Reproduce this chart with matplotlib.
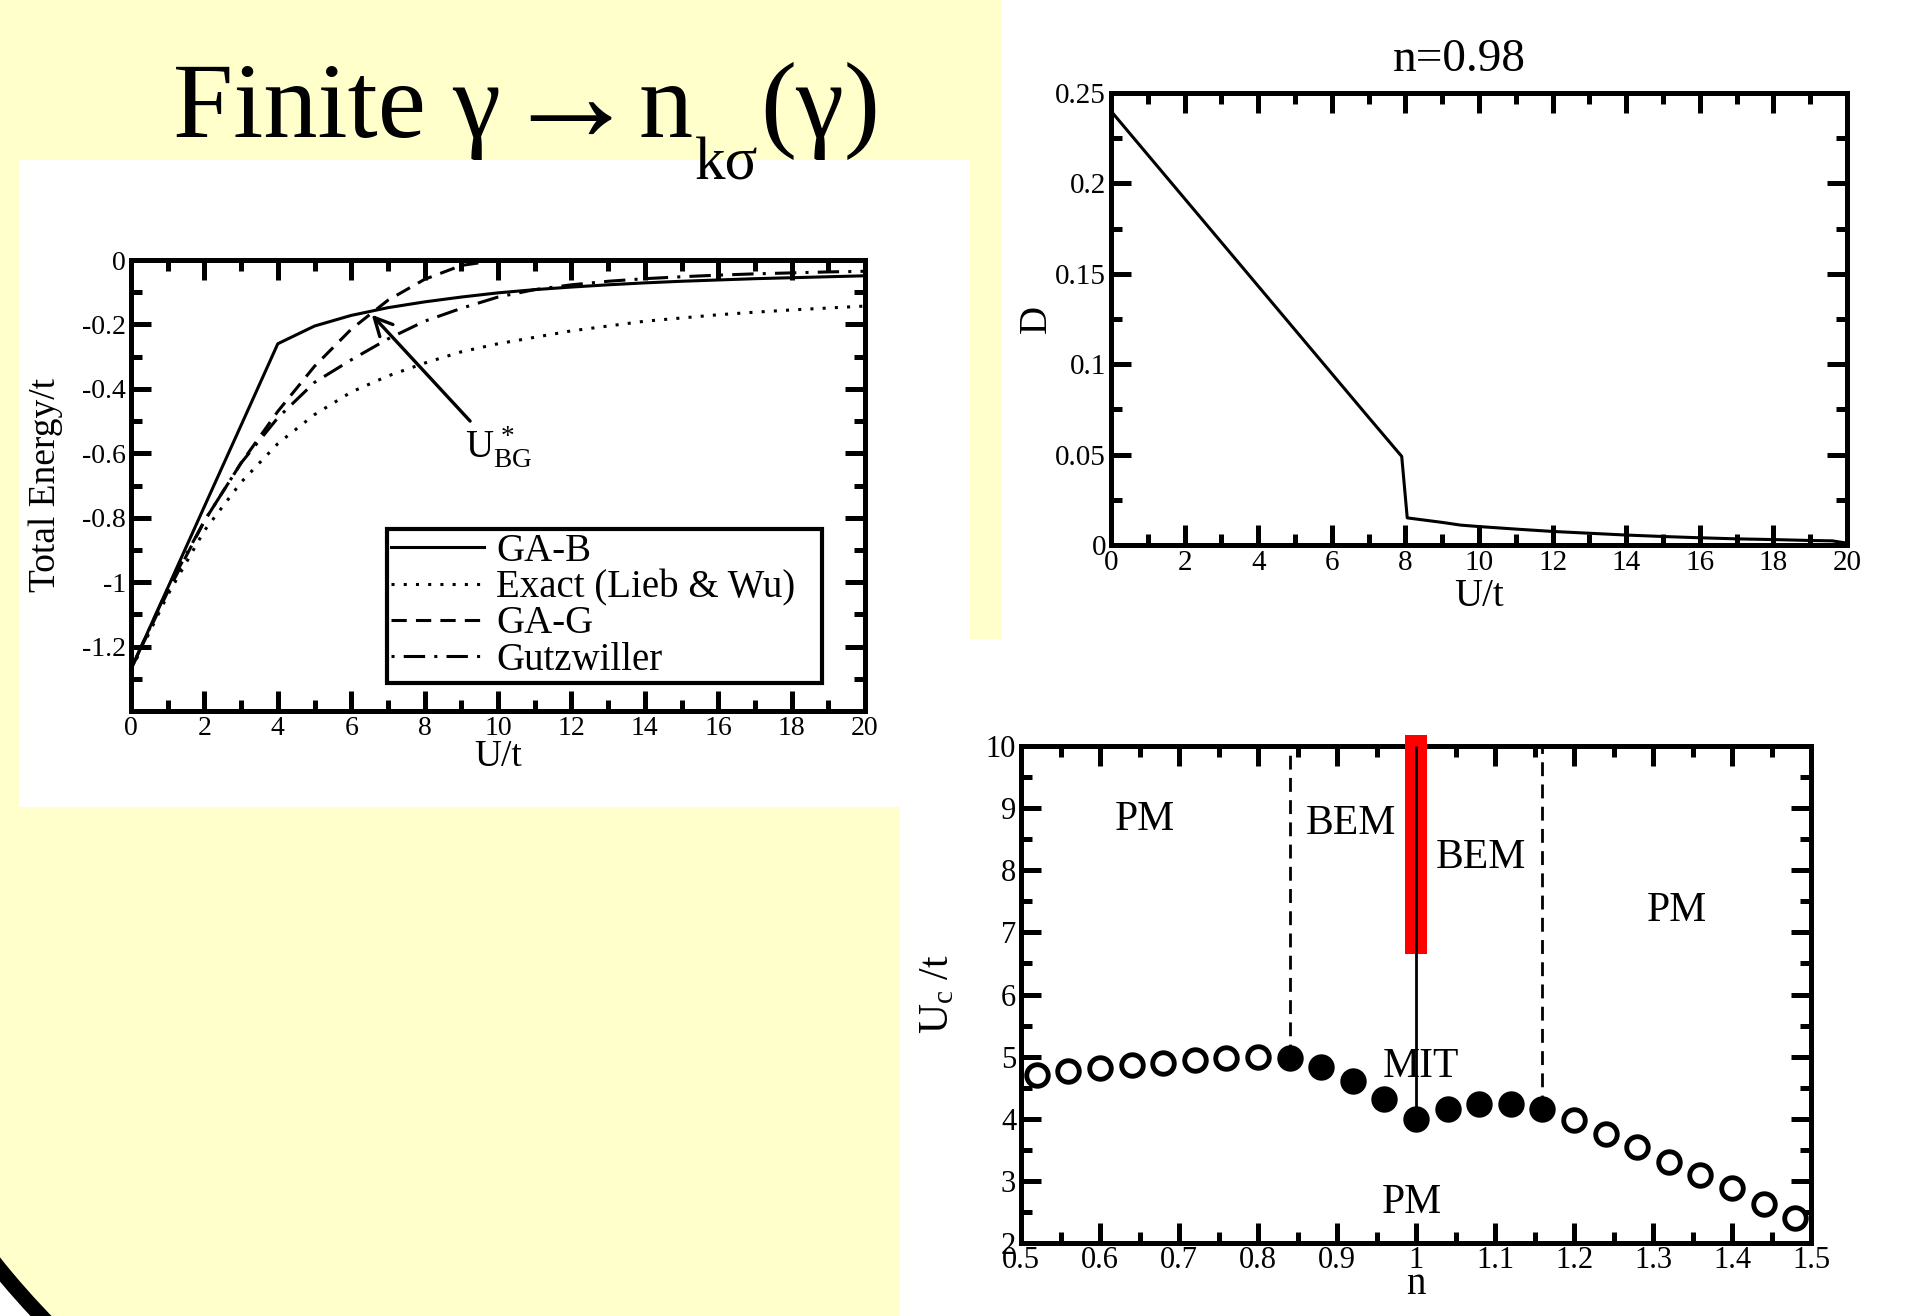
import numpy as np
import matplotlib
matplotlib.use('Agg')
import matplotlib.pyplot as plt
import matplotlib.patches as pat
from matplotlib.ticker import MultipleLocator, FuncFormatter

plt.rcParams['font.family'] = ['Liberation Serif', 'DejaVu Serif']
plt.rcParams['mathtext.fontset'] = 'custom'
plt.rcParams['mathtext.rm'] = 'Liberation Serif'
plt.rcParams['mathtext.it'] = 'Liberation Serif:italic'
plt.rcParams['axes.unicode_minus'] = False

# left panel: total energy vs U/t
u_vals = [0, 1, 2, 3, 4, 5, 6, 7, 8, 9, 10, 11, 12, 13, 14, 15, 16, 17, 18, 19, 20]
e_gab = [-1.27, -1.018, -0.765, -0.513, -0.26, -0.205, -0.172, -0.148, -0.13, -0.115, -0.102,
         -0.092, -0.084, -0.077, -0.071, -0.066, -0.062, -0.058, -0.055, -0.052, -0.049]
e_exact = [-1.273, -1.04, -0.84, -0.69, -0.57, -0.48, -0.41, -0.36, -0.32, -0.285, -0.26,
           -0.24, -0.22, -0.205, -0.19, -0.18, -0.17, -0.162, -0.155, -0.149, -0.143]
e_gag = [-1.27, -1.03, -0.81, -0.63, -0.47, -0.33, -0.215, -0.125, -0.06, -0.017, 0.0,
         0.0, 0.0, 0.0, 0.0, 0.0, 0.0, 0.0, 0.0, 0.0, 0.0]
e_gutz = [-1.27, -1.02, -0.81, -0.63, -0.49, -0.38, -0.31, -0.245, -0.19, -0.15, -0.115,
          -0.092, -0.077, -0.066, -0.058, -0.052, -0.047, -0.043, -0.04, -0.037, -0.035]
energy_labels = ['GA-B', 'Exact (Lieb & Wu)', 'GA-G', 'Gutzwiller']
u_star = (6.56, -0.17)

# top right: double occupancy at n=0.98
d_u = [0, 1, 2, 3, 4, 5, 6, 7, 7.9, 8.05, 9, 9.5, 10, 11, 12, 13, 14, 15, 16, 17, 18, 19, 19.6, 20]
d_vals = [0.240, 0.2158, 0.1916, 0.1674, 0.1432, 0.119, 0.0948, 0.0706, 0.049, 0.015, 0.0125, 0.011,
          0.0102, 0.0088, 0.0075, 0.0065, 0.0055, 0.0047, 0.004, 0.0034, 0.003, 0.0025, 0.0023, 0.001]

# bottom right: critical U vs filling
n_vals = [0.52, 0.56, 0.60, 0.64, 0.68, 0.72, 0.76, 0.80, 0.84, 0.88, 0.92, 0.96, 1.00,
          1.04, 1.08, 1.12, 1.16, 1.20, 1.24, 1.28, 1.32, 1.36, 1.40, 1.44, 1.48]
uc_vals = [4.71, 4.77, 4.82, 4.86, 4.90, 4.94, 4.98, 5.0, 4.97, 4.83, 4.6, 4.31, 4.0,
           4.15, 4.23, 4.23, 4.15, 3.98, 3.75, 3.55, 3.31, 3.09, 2.88, 2.63, 2.41]
uc_filled = [0, 0, 0, 0, 0, 0, 0, 0, 1, 1, 1, 1, 1, 1, 1, 1, 1, 0, 0, 0, 0, 0, 0, 0, 0]
bem_edges = [0.84, 1.16]
mit_n = 1.0
region_text = ['PM', 'BEM', 'BEM', 'PM', 'MIT', 'PM']
region_xy = [(0.657, 8.82), (0.918, 8.75), (1.082, 8.2), (1.33, 7.35), (1.006, 4.84), (0.995, 2.65)]

W, H = 1915, 1316
yellow = '#ffffcc'


def fmt(v, pos):
    return '%g' % round(v, 6)


def style(ax, xmaj, xmin, ymaj, ymin, size):
    for s in ax.spines.values():
        s.set_linewidth(3.6)
    ax.xaxis.set_major_locator(MultipleLocator(xmaj))
    ax.xaxis.set_minor_locator(MultipleLocator(xmin))
    ax.yaxis.set_major_locator(MultipleLocator(ymaj))
    ax.yaxis.set_minor_locator(MultipleLocator(ymin))
    ax.xaxis.set_major_formatter(FuncFormatter(fmt))
    ax.yaxis.set_major_formatter(FuncFormatter(fmt))
    ax.tick_params(which='both', direction='in', top=True, right=True, width=3.6,
                   labelsize=size, pad=3.5)
    ax.tick_params(which='major', length=14.5)
    ax.tick_params(which='minor', length=8)


def rect(l, t, r, b):
    return [l / W, 1 - b / H, (r - l) / W, (b - t) / H]


fig = plt.figure(figsize=(19.15, 13.16), dpi=100)
fig.patch.set_facecolor('white')

# slide background
bg = fig.add_axes([0, 0, 1, 1])
bg.set_xlim(0, W)
bg.set_ylim(H, 0)
bg.axis('off')
for (x0, y0, w, h, c) in [(0, 0, 1002, 639, yellow), (0, 639, 19, 168, yellow),
                          (0, 807, 900, 509, yellow), (19, 160, 951, 647, 'white')]:
    bg.add_patch(pat.Rectangle((x0, y0), w, h, facecolor=c, edgecolor='none'))
bg.add_patch(pat.Wedge((620, 764), 1400, 115, 165, width=600, facecolor='white', edgecolor='none'))
bg.add_patch(pat.Arc((620, 764), 1600, 1600, theta1=115, theta2=165, color='black', lw=11))

# title, built piece by piece
r = fig.canvas.get_renderer()
t1 = fig.text(173 / W, 1 - 137 / H, 'Finite γ', fontsize=78, va='baseline', ha='left')
x1 = t1.get_window_extent(r).x1
t2 = fig.text((x1 + 1) / W, 1 - 141 / H, '→', fontsize=98, va='baseline', ha='left')
x2 = t2.get_window_extent(r).x1
t3 = fig.text((x2 + 1) / W, 1 - 137 / H, 'n', fontsize=78, va='baseline', ha='left')
x3 = t3.get_window_extent(r).x1
t4 = fig.text((x3 + 2) / W, 1 - 180 / H, 'kσ', fontsize=44, va='baseline', ha='left')
x4 = t4.get_window_extent(r).x1
fig.text((x4 + 2) / W, 1 - 137 / H, '(γ)', fontsize=78, va='baseline', ha='left')

# left panel
ax1 = fig.add_axes(rect(131, 260, 865, 711))
ax1.plot(u_vals, e_gab, '-', color='black', lw=2.2, label=energy_labels[0])
ax1.plot(u_vals, e_exact, color='black', lw=2.2, ls=(0, (1, 3)), label=energy_labels[1])
ax1.plot(u_vals, e_gag, color='black', lw=2.2, ls=(0, (5, 3)), label=energy_labels[2])
ax1.plot(u_vals, e_gutz, color='black', lw=2.2, ls=(0, (1, 3, 7, 3)), label=energy_labels[3])
ax1.set_xlim(0, 20)
ax1.set_ylim(-1.4, 0)
style(ax1, 2, 1, 0.2, 0.1, 20)
ax1.yaxis.set_major_formatter(FuncFormatter(lambda v, p: '' if v < -1.3 else fmt(v, p)))
ax1.set_xlabel('U/t', fontsize=27)
ax1.set_ylabel('Total Energy/t', fontsize=27)
ax1.xaxis.set_label_coords(0.5, (711 - 757) / 451)
ax1.yaxis.set_label_coords((46 - 131) / 734, 0.5)
ax1.xaxis.label.set_va('center')
ax1.yaxis.label.set_va('center')
ax1.annotate('', xy=u_star, xytext=(9.24, -0.50),
             arrowprops=dict(arrowstyle='->', lw=2.4, color='black', mutation_scale=32,
                             shrinkA=0, shrinkB=0))
ax1.text(9.1, -0.615, r'$\mathrm{U}^{\,*}_{\mathrm{BG}}$', fontsize=28, va='baseline', ha='left')
leg = ax1.legend(loc='upper left', bbox_to_anchor=(0.349, 0.08, 0.5925, 0.3235), mode='expand',
                 borderaxespad=0, fontsize=28, fancybox=False, edgecolor='black', framealpha=1,
                 handlelength=2.4, handletextpad=0.3, labelspacing=-0.02, borderpad=0.1)
leg.get_frame().set_linewidth(3)

# top right panel
ax2 = fig.add_axes(rect(1111, 93, 1847, 545))
ax2.plot(d_u, d_vals, '-', color='black', lw=2.2)
ax2.set_xlim(0, 20)
ax2.set_ylim(0, 0.25)
style(ax2, 2, 1, 0.05, 0.025, 21)
ax2.set_title('n=0.98', fontsize=34, pad=16, x=0.473)
ax2.set_xlabel('U/t', fontsize=28)
ax2.set_ylabel('D', fontsize=28)
ax2.xaxis.set_label_coords(0.5, (545 - 596) / 452)
ax2.yaxis.set_label_coords((1036 - 1111) / 736, 0.5)
ax2.xaxis.label.set_va('center')
ax2.yaxis.label.set_va('center')

# bottom right panel
ax3 = fig.add_axes(rect(1021, 746, 1811, 1243))
ax3.set_xlim(0.5, 1.5)
ax3.set_ylim(2, 10)
style(ax3, 0.1, 0.05, 1, 0.5, 22)
ax3.tick_params(axis='x', pad=2)
for nb in bem_edges:
    ax3.vlines(nb, uc_vals[n_vals.index(nb)], 10, colors='black', lw=2, linestyles=(0, (5, 3)), zorder=2)
ax3.add_patch(pat.Rectangle((0.986, 6.65), 0.028, 3.53, facecolor='red', edgecolor='red',
                            lw=0, clip_on=False, zorder=3))
ax3.vlines(mit_n, uc_vals[n_vals.index(mit_n)], 10, colors='black', lw=2, zorder=4)
for n, u, f in zip(n_vals, uc_vals, uc_filled):
    ax3.plot([n], [u], 'o', ms=15.5, mec='black', mew=3.5, mfc='black' if f else 'white',
             zorder=5, clip_on=False)
for s, (x, y) in zip(region_text, region_xy):
    ax3.text(x, y, s, fontsize=30, ha='center', va='center', zorder=6)
ax3.set_xlabel('n', fontsize=28)
ax3.set_ylabel(r'$\mathrm{U}_{\mathrm{c}}$ /t', fontsize=30)
ax3.xaxis.set_label_coords(0.5, (1243 - 1285) / 497)
ax3.yaxis.set_label_coords((938 - 1021) / 790, 0.5)
ax3.xaxis.label.set_va('center')
ax3.yaxis.label.set_va('center')

fig.savefig('out.png', dpi=100, facecolor=fig.get_facecolor())
